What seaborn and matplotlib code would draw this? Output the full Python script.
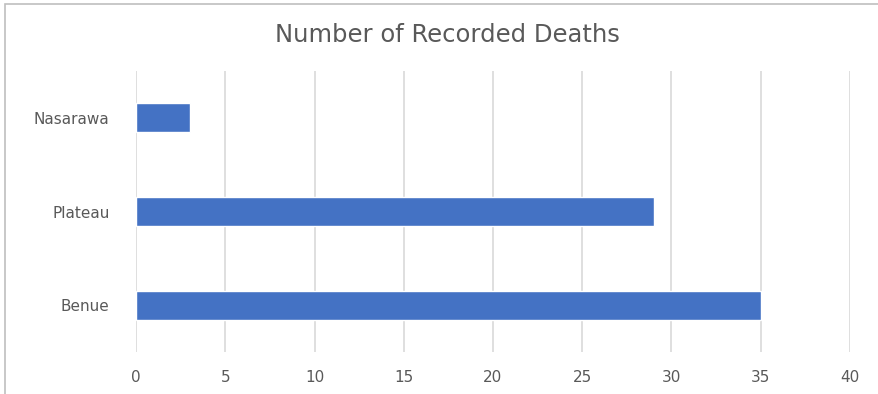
import matplotlib
matplotlib.use("Agg")
import matplotlib.pyplot as plt
import seaborn as sns
import pandas as pd
from matplotlib.patches import Rectangle

states = ["Nasarawa", "Plateau", "Benue"]
deaths = [3, 29, 35]
x_ticks = [0, 5, 10, 15, 20, 25, 30, 35, 40]
title = "Number of Recorded Deaths"

sns.set_theme(style="white")
plt.rcParams["font.family"] = ["DejaVu Sans"]

W, H = 879, 394
fig = plt.figure(figsize=(W / 100, H / 100), dpi=100)
ax = fig.add_axes([136 / W, 1 - 352 / H, (850 - 136) / W, (352 - 71) / H])

df = pd.DataFrame({"state": states, "deaths": deaths})
sns.barplot(data=df, x="deaths", y="state", orient="h", color="#4472C4",
            saturation=1, width=0.31, ax=ax, zorder=3)

ax.set_xlim(0, 40)
ax.set_xticks(x_ticks)
ax.set_ylim(2.5, -0.5)
ax.set_xlabel("")
ax.set_ylabel("")
ax.grid(axis="x", color="#D9D9D9", linewidth=1.2, zorder=0)
ax.grid(axis="y", visible=False)
ax.set_axisbelow(True)
for s in ax.spines.values():
    s.set_visible(False)
ax.tick_params(axis="x", length=0, pad=13, labelsize=11, labelcolor="#595959")
ax.tick_params(axis="y", length=0, pad=19, labelsize=11, labelcolor="#595959")

fig.text(447 / W, 1 - 35 / H, title, ha="center", va="center",
         fontsize=17.5, color="#595959")

# chart area border (top and left edges)
fig.patches.append(Rectangle((5.5 / W, -0.1), 1.2, 1 - 4.5 / H + 0.1,
                             transform=fig.transFigure, fill=False,
                             edgecolor="#BFBFBF", linewidth=1.2))

fig.savefig("out.png", dpi=100)
